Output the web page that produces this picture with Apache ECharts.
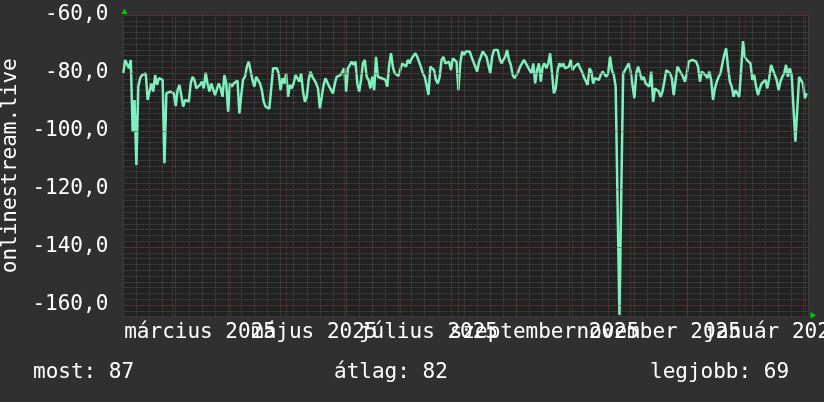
<!DOCTYPE html>
<html><head><meta charset="utf-8">
<script src="https://cdn.jsdelivr.net/npm/echarts@6/dist/echarts.min.js"></script>
<style>html,body{margin:0;padding:0;background:#303030;}#c{width:824px;height:402px;}</style>
</head><body><div id="c"></div>
<script>
const startDate = '2025-02-03';
const values = [
-80, -75.5, -76, -78.4, -75.5, -100.2, -89.3, -111.7, -84.7, -81.8,
-80.7, -80.4, -80.1, -89.3, -89.3, -83.6, -86.4, -80.7, -84.1, -81.8,
-81.8, -82.4, -111.1, -87, -86.4, -86.4, -87, -87, -91.4, -85.9,
-84.1, -84.1, -91.6, -89.3, -89.9, -89.9, -83.6, -81.3, -82.4, -85.3,
-85.3, -84.1, -83, -85.3, -79.9, -83.6, -86.4, -83.6, -84.1, -87.6,
-88.2, -83.6, -85.3, -88.2, -80.7, -83.6, -93.3, -83.6, -84.7, -83.6,
-83, -82.6, -93.9, -87.6, -82.2, -81.3, -77.8, -76.1, -76.1, -82.4,
-84.7, -81.3, -81.8, -83.6, -85.9, -89.9, -91.6, -92.2, -92.3, -92.5,
-78.4, -77.8, -78.4, -80.1, -85.9, -81.8, -83.6, -80.1, -88.2, -84.1,
-85.3, -83.6, -80.7, -80.1, -83, -80.1, -86.4, -89.9, -88.2, -82.4,
-79.5, -81.3, -82.4, -83.6, -85.3, -92.2, -88.2, -84.1, -81.8, -82.4,
-84.7, -85.3, -87, -83.6, -81.3, -80.7, -80.7, -80.1, -78.4, -86.4,
-78.4, -77.8, -76.1, -77.2, -76.1, -83.6, -86.4, -82.4, -76.7, -75.5,
-81.3, -82.4, -85.3, -81.3, -85.9, -74.4, -81.3, -81.3, -81.8, -82.4,
-82.4, -84.7, -77.2, -73.2, -78, -80.1, -80.7, -81, -81.3, -76.7,
-76.1, -77.8, -75.5, -76.7, -75, -74.4, -73.2, -74.4, -75, -78,
-80.1, -81.3, -84.1, -87.6, -77.8, -77.2, -79, -82.4, -83.6, -81.3,
-75.5, -74.4, -76.7, -76.7, -76.1, -79, -75, -75.5, -76.1, -85.9,
-76.7, -72.6, -73.8, -72.6, -73.2, -72.6, -74.4, -76.1, -76.7, -79.5,
-76.1, -74.4, -72.6, -73.2, -74.4, -75, -80.1, -74.4, -72.1, -72.6,
-72.1, -75, -76.7, -75.5, -74.4, -72.1, -75.5, -77.2, -80.7, -81.8,
-80.7, -79.5, -77.8, -76.7, -75.5, -75, -77.8, -79, -80.1, -76.7,
-83.6, -79, -76.7, -83, -77.8, -76.7, -78.4, -76.7, -73.2, -80.1,
-87, -85.3, -79, -76.7, -77.8, -76.7, -78.4, -79, -77.8, -75.5,
-79, -77.8, -77.2, -76.7, -78.4, -79.5, -81.3, -81.8, -84.1, -78.4,
-79.5, -83.6, -81.8, -82, -82.4, -80.7, -79.5, -79, -81.3, -80.1,
-74.4, -79, -80.7, -84.7, -85.3, -163.4, -120.9, -80.1, -79, -78.4,
-76.7, -79.5, -79, -88.7, -80.1, -77.8, -80.1, -82.4, -81.3, -83.6,
-84.1, -84.7, -79.5, -89.9, -85.3, -85.3, -86.4, -88.2, -86.4, -83,
-79, -78.4, -80.1, -81.8, -87.6, -87.6, -77.8, -79, -80.1, -81.3,
-83, -80.1, -76.1, -75.5, -75.5, -75.5, -76.1, -77.8, -83, -79.5,
-79.5, -80.7, -81.8, -79.5, -82.4, -89.3, -85.3, -83, -81.3, -80.1,
-76.7, -73.8, -71.5, -77.8, -83, -84.7, -88.2, -85.9, -85.3, -88.2,
-79, -69, -74.4, -75.5, -75.5, -76.7, -82.4, -80.7, -84.7, -87.6,
-85.3, -83.6, -84.1, -82.4, -85.3, -81.8, -77.2, -76.7, -80.7, -82.4,
-85.9, -83, -81.3, -80.1, -77.2, -81.3, -78.4, -80.7, -81.3, -103.7,
-104.3, -81.3, -81.8, -83.6, -88.7, -87
];
const yTickLabels = [-60, -80, -100, -120, -140, -160];
const monthStarts = ['2025-03-01','2025-04-01','2025-05-01','2025-06-01','2025-07-01','2025-08-01',
  '2025-09-01','2025-10-01','2025-11-01','2025-12-01','2026-01-01','2026-02-01'];
const labelMonths = ['2025-03-01','2025-05-01','2025-07-01','2025-09-01','2025-11-01','2026-01-01'];
const labelTexts = ['március 2025','május 2025','július 2025','szeptember 2025','november 2025','január 2026'];
const yTitle = 'onlinestream.live';
const statTexts = ['most: 87', 'átlag: 82', 'legjobb: 69'];

const DAY = 86400000;
const t0 = Date.parse(startDate + 'T00:00:00Z');
const dayOf = s => (Date.parse(s + 'T00:00:00Z') - t0) / DAY;
const labelPos = labelMonths.map(m => dayOf(m) + 15);

const FONT = 'DejaVu Sans Mono';
const chart = echarts.init(document.getElementById('c'), null, {renderer: 'canvas'});
const gridL = 123.3, gridT = 15, gridR = 15.5, gridB = 85.4;
const X_MIN = 0, X_MAX = 366;

function labelAxis(parity) {
  const pos = labelPos.filter((p, i) => i % 2 === parity);
  return {
    type: 'value', min: X_MIN, max: X_MAX, position: 'bottom', offset: 0,
    axisLine: {show: false}, axisTick: {show: false}, splitLine: {show: false},
    axisLabel: {
      customValues: pos, margin: 5, color: '#ffffff',
      fontFamily: FONT, fontSize: 21,
      showMinLabel: true, showMaxLabel: true, hideOverlap: false,
      formatter: v => { const i = labelPos.findIndex(p => Math.abs(p - v) < 0.01); return i >= 0 ? labelTexts[i] : ''; }
    }
  };
}

chart.setOption({
  backgroundColor: '#303030',
  animation: false,
  grid: {left: gridL, top: gridT, right: gridR, bottom: gridB, show: true,
         backgroundColor: '#212121', borderWidth: 0, containLabel: false, outerBoundsMode: 'none'},
  xAxis: [
    {
      type: 'value', min: X_MIN, max: X_MAX, interval: 7, position: 'bottom',
      axisLine: {show: false}, axisTick: {show: false}, axisLabel: {show: false},
      splitLine: {show: true, lineStyle: {color: '#4e4e4e', type: [1, 1], width: 1}}
    },
    labelAxis(0),
    labelAxis(1)
  ],
  yAxis: {
    type: 'value', min: -164, max: -60, interval: 2,
    name: yTitle, nameLocation: 'middle', nameRotate: 90, nameGap: 92,
    nameTextStyle: {color: '#ffffff', fontFamily: FONT, fontSize: 21},
    axisLine: {show: false}, axisTick: {show: false},
    splitLine: {show: true, lineStyle: {color: '#4e4e4e', type: [1, 1], width: 1}},
    axisLabel: {
      customValues: yTickLabels, margin: 15, color: '#ffffff',
      fontFamily: FONT, fontSize: 21, showMinLabel: true, showMaxLabel: true,
      formatter: v => v.toFixed(1).replace('.', ',')
    }
  },
  series: [
    {
      type: 'line', data: [], z: 1, silent: true, xAxisIndex: 0,
      markLine: {
        silent: true, symbol: 'none', animation: false,
        label: {show: false},
        lineStyle: {color: '#6e3434', type: [1, 1], width: 1},
        data: [
          ...monthStarts.map(d => ({xAxis: dayOf(d)})),
          ...yTickLabels.map(v => ({yAxis: v}))
        ]
      }
    },
    {
      type: 'line', z: 3, showSymbol: false, symbol: 'none', xAxisIndex: 0,
      data: values.map((v, i) => [i, v]),
      lineStyle: {color: '#7ff0bd', width: 2.5},
      emphasis: {disabled: true}
    }
  ],
  graphic: [
    {type: 'polygon', shape: {points: [[121.5, 14], [127.5, 14], [124.5, 8.5]]}, style: {fill: '#00cc00'}},
    {type: 'polygon', shape: {points: [[810.5, 312], [810.5, 318.5], [816, 315.2]]}, style: {fill: '#00cc00'}},
    {type: 'text', left: 33, top: 362, style: {text: statTexts[0], fill: '#ffffff', font: '21px "DejaVu Sans Mono"'}},
    {type: 'text', left: 334, top: 362, style: {text: statTexts[1], fill: '#ffffff', font: '21px "DejaVu Sans Mono"'}},
    {type: 'text', left: 650, top: 362, style: {text: statTexts[2], fill: '#ffffff', font: '21px "DejaVu Sans Mono"'}}
  ]
});
</script></body></html>
